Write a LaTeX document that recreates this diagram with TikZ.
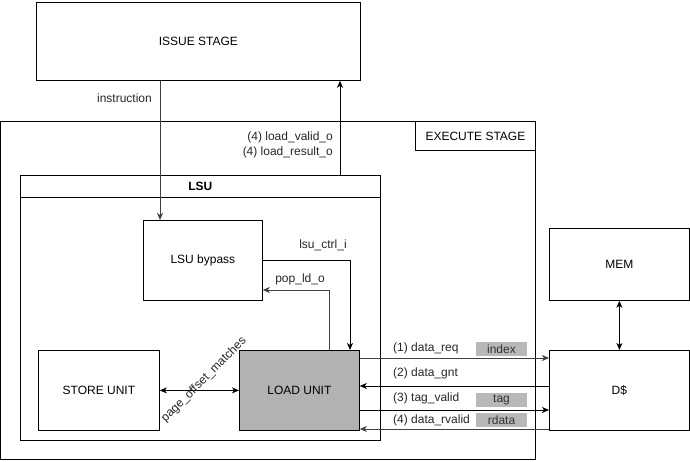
\documentclass[tikz,border=0pt]{standalone}
\usepackage{fontspec}
\setmainfont{Liberation Sans}
\usetikzlibrary{arrows.meta}
\tikzset{
	blk/.style={draw, line width=0.8pt, rectangle, inner sep=0pt, anchor=north west},
	lbl/.style={inner sep=1pt, text=black!85},
	tagbox/.style={fill=black!28, inner sep=0pt, minimum width=51pt, minimum height=14pt, text=black!80},
	sig/.style={line width=0.8pt, -{Stealth[length=7pt,width=6pt,inset=2pt]}},
	bisig/.style={line width=0.8pt, {Stealth[length=7pt,width=6pt,inset=2pt]}-{Stealth[length=7pt,width=6pt,inset=2pt]}}
}
\begin{document}
\begin{tikzpicture}[x=1pt, y=-1pt, font=\fontsize{12}{15}\selectfont]
	\useasboundingbox (0,0) rectangle (690,462);

	\node[blk, minimum width=324pt, minimum height=78pt] (issue) at (36,2) {};
	\node at (issue.center) {ISSUE STAGE};
	\node[blk, minimum width=535pt, minimum height=338pt] (exec) at (0,121) {};
	\node[blk, minimum width=120pt, minimum height=29pt] (execlbl) at (415,121) {};
	\node at (execlbl.center) {EXECUTE STAGE};
	\node[blk, minimum width=360pt, minimum height=243pt] (lsu) at (20,197) {};
	\node[blk, minimum width=360pt, minimum height=22pt] (lsuhead) at (20,175) {};
	\node at (lsuhead.center) {\textbf{LSU}};
	\node[blk, minimum width=119pt, minimum height=80pt] (bypass) at (143,220) {};
	\node at (bypass.center) {LSU bypass};
	\node[blk, minimum width=121pt, minimum height=80pt] (store) at (38,350) {};
	\node at (store.center) {STORE UNIT};
	\node[blk, fill=black!30, minimum width=120pt, minimum height=80pt] (load) at (239,350) {};
	\node at (load.center) {LOAD UNIT};
	\node[blk, minimum width=140pt, minimum height=72pt] (mem) at (549,228) {};
	\node at (mem.center) {MEM};
	\node[blk, minimum width=140pt, minimum height=80pt] (dcache) at (549,350) {};
	\node at (dcache.center) {D\$};

	\coordinate (instr) at (160,0);
	\coordinate (result) at (340,0);
	\coordinate (ctrl) at (350,0);
	\coordinate (pop) at (329,290);
	\coordinate (req) at (0,358);
	\coordinate (gnt) at (0,386);
	\coordinate (tagv) at (0,410);
	\coordinate (rvalid) at (0,429);

	\draw[sig, black!75] (issue.south -| instr) -- (bypass.north -| instr);
	\draw[sig] (lsuhead.north -| result) -- (issue.south -| result);
	\draw[sig] (bypass.east) -| (load.north -| ctrl);
	\draw[sig, black!75] (load.north -| pop) |- (bypass.east |- pop);
	\draw[bisig] (store.east) -- (load.west);
	\draw[sig, black!75] (load.east |- req) -- (dcache.west |- req);
	\draw[sig] (dcache.west |- gnt) -- (load.east |- gnt);
	\draw[sig] (load.east |- tagv) -- (dcache.west |- tagv);
	\draw[sig, black!75] (dcache.west |- rvalid) -- (load.east |- rvalid);
	\draw[bisig] (mem.south) -- (dcache.north);

	\node[lbl, anchor=east] (instrlbl) at (153,98) {instruction};
	\node[lbl, anchor=east, align=right] (resultlbl) at (334,145) {(4) load\_valid\_o\\(4) load\_result\_o};
	\node[lbl] (ctrllbl) at (323,245) {lsu\_ctrl\_i};
	\node[lbl] (poplbl) at (300,279) {pop\_ld\_o};
	\node[lbl, rotate=45] (pagelbl) at (204,380) {page\_offset\_matches};
	\node[lbl, anchor=west] (reqlbl) at (392,348) {(1) data\_req};
	\node[lbl, anchor=west] (gntlbl) at (392,373) {(2) data\_gnt};
	\node[lbl, anchor=west] (tagvlbl) at (392,398) {(3) tag\_valid};
	\node[lbl, anchor=west] (rvalidlbl) at (392,420) {(4) data\_rvalid};
	\node[tagbox] (index) at (501.5,349) {index};
	\node[tagbox] (tag) at (501.5,399.5) {tag};
	\node[tagbox] (rdata) at (501.5,420) {rdata};
\end{tikzpicture}
\end{document}
